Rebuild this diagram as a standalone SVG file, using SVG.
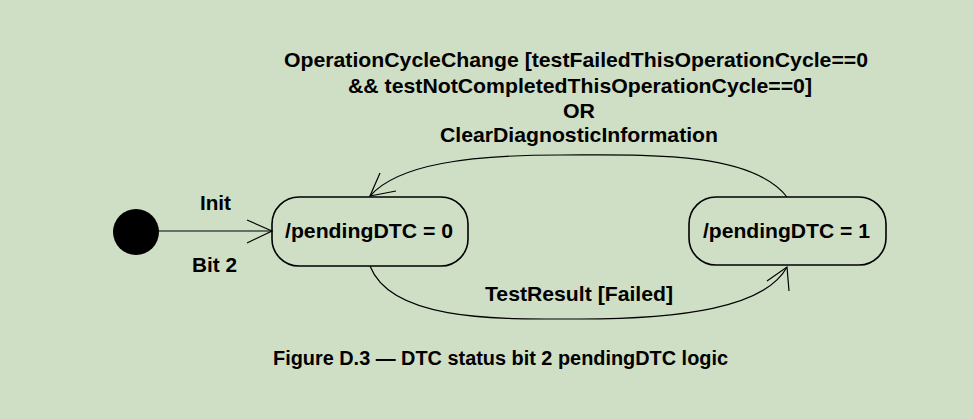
<svg xmlns="http://www.w3.org/2000/svg" width="973" height="419" viewBox="0 0 973 419">
<style>
text{font-family:"Liberation Sans",Arial,sans-serif;font-weight:bold;fill:#000;}
.lbl{font-size:21px;}
.st{fill:none;stroke:#000;stroke-width:1.6;}
.ln{fill:none;stroke:#000;stroke-width:1.2;}
</style>
<rect x="0" y="0" width="973" height="419" fill="#CFDFC5"/>
<g id="connectors">
<line class="ln" x1="158" y1="231" x2="272" y2="231"/>
<polyline class="ln" points="247,220 272,231 247,243"/>
<path class="ln" d="M370,266 C392,322 500,319 580,319 C680,319 765,308 787,267"/>
<polyline class="ln" points="767,281 787,267 789,291"/>
<path class="ln" d="M787,197 C750,150 640,155 560,155 C470,155 398,164 370,196"/>
<polyline class="ln" points="380,173 370,196 396,191"/>
</g>
<g id="init"><circle cx="136" cy="232" r="23" fill="#000"/></g>
<g id="state0">
<rect class="st" x="272" y="197" width="196" height="69" rx="27" ry="27"/>
<text class="lbl" x="285" y="238" textLength="168" lengthAdjust="spacingAndGlyphs">/pendingDTC = 0</text>
</g>
<g id="state1">
<rect class="st" x="689" y="197" width="197" height="68" rx="27" ry="27"/>
<text class="lbl" x="703" y="238" textLength="167" lengthAdjust="spacingAndGlyphs">/pendingDTC = 1</text>
</g>
<g id="labels">
<text class="lbl" x="200" y="210" textLength="31" lengthAdjust="spacingAndGlyphs">Init</text>
<text class="lbl" x="192" y="272" textLength="45" lengthAdjust="spacingAndGlyphs">Bit 2</text>
<text class="lbl" x="485" y="301" textLength="188" lengthAdjust="spacingAndGlyphs">TestResult [Failed]</text>
<text class="lbl" x="284" y="67" textLength="584" lengthAdjust="spacingAndGlyphs">OperationCycleChange [testFailedThisOperationCycle==0</text>
<text class="lbl" x="348" y="93" textLength="464" lengthAdjust="spacingAndGlyphs">&amp;&amp; testNotCompletedThisOperationCycle==0]</text>
<text class="lbl" x="563" y="118" textLength="32" lengthAdjust="spacingAndGlyphs">OR</text>
<text class="lbl" x="440" y="142" textLength="278" lengthAdjust="spacingAndGlyphs">ClearDiagnosticInformation</text>
</g>
<text x="273" y="365" font-size="20" textLength="455" lengthAdjust="spacingAndGlyphs">Figure D.3 — DTC status bit 2 pendingDTC logic</text>
</svg>
